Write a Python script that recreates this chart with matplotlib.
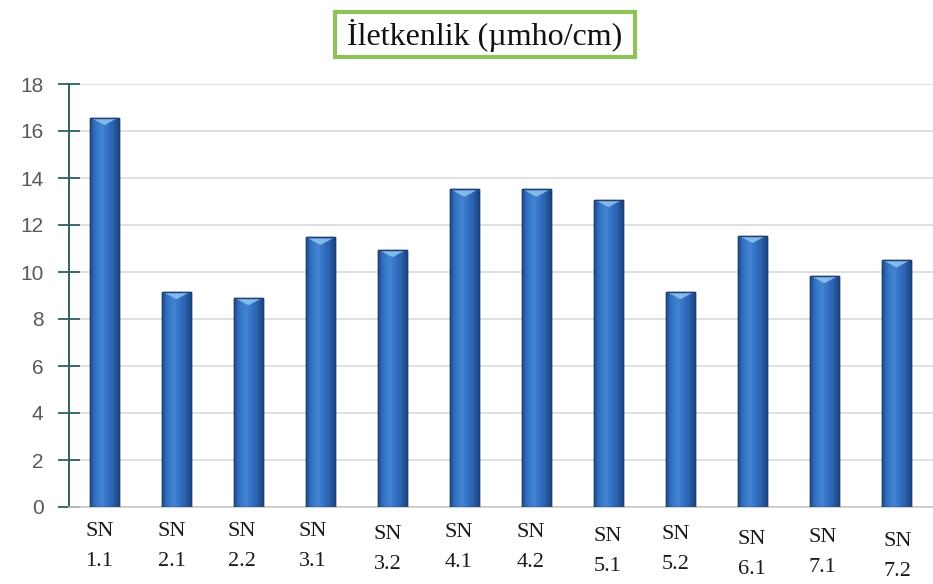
import numpy as np
import matplotlib
matplotlib.use("Agg")
import matplotlib.pyplot as plt
from matplotlib.patches import Rectangle, Polygon
from matplotlib.colors import LinearSegmentedColormap

# Conductivity per sampling point
stations = ["SN\n1.1", "SN\n2.1", "SN\n2.2", "SN\n3.1", "SN\n3.2", "SN\n4.1",
            "SN\n4.2", "SN\n5.1", "SN\n5.2", "SN\n6.1", "SN\n7.1", "SN\n7.2"]
conductivity = [16.57, 9.16, 8.90, 11.47, 10.95, 13.52,
                13.52, 13.08, 9.16, 11.55, 9.84, 10.51]
y_ticks = [0, 2, 4, 6, 8, 10, 12, 14, 16, 18]
title = "İletkenlik (µmho/cm)"

# small hand-placed nudges of the category labels (pixels)
label_dx = [-5, -5, -7, -8, -5, -6, -6, -1, -5, -1, -2, 1]
label_dy = [15, 15, 15, 15, 18, 16, 16, 20, 18, 23, 21, 25]

W, H, DPI = 933, 584, 100
fig = plt.figure(figsize=(W / DPI, H / DPI), dpi=DPI, facecolor="white")
ax = fig.add_axes([68.5 / W, 1 - 507 / H, 864 / W, 423 / H])

x = np.arange(len(conductivity))
bar_w = 0.4
bars = ax.bar(x, conductivity, width=bar_w, color="#2f69b8",
              edgecolor="#1d4177", linewidth=1.0, zorder=3)

# cylinder-like shading across each bar
shade = LinearSegmentedColormap.from_list(
    "shade", ["#21508f", "#3674c6", "#4384d4", "#3573c4", "#2a62ad", "#1d4580"])
grad = np.linspace(0, 1, 64).reshape(1, -1)
for b, v in zip(bars, conductivity):
    x0 = b.get_x()
    x1 = x0 + b.get_width()
    im = ax.imshow(grad, cmap=shade, aspect="auto", extent=[x0, x1, 0, v],
                   zorder=3.5, interpolation="bicubic")
    im.set_clip_path(b)
    cap = Polygon([[x0 + 0.03, v - 0.04], [x1 - 0.03, v - 0.04],
                   [(x0 + x1) / 2, v - 0.32]], closed=True,
                  facecolor="#8cc0f0", edgecolor="none", alpha=0.9, zorder=4)
    ax.add_patch(cap)
    ax.add_patch(Rectangle((x0, 0), x1 - x0, v, fill=False,
                           edgecolor="#1d4177", linewidth=1.0, zorder=4.5))

ax.set_xlim(-0.5, len(conductivity) - 0.5)
ax.set_ylim(0, 18)
ax.set_yticks(y_ticks)
ax.set_yticklabels([str(t) for t in y_ticks], fontfamily="Liberation Sans",
                   fontsize=15, color="#595959")
ax.tick_params(axis="y", direction="inout", length=16, width=1.3,
               color="#2f5f66", pad=10)
ax.set_xticks([])

ax.grid(axis="y", color="#d9d9d9", linewidth=1.2, zorder=0)
ax.set_axisbelow(True)
for s in ("top", "right"):
    ax.spines[s].set_visible(False)
ax.spines["left"].set_color("#2f5f66")
ax.spines["left"].set_linewidth(1.4)
ax.spines["bottom"].set_color("#c8c8c8")
ax.spines["bottom"].set_linewidth(1.2)

for i, lab in enumerate(stations):
    ax.annotate(lab, xy=(x[i], 0), xycoords=("data", "axes fraction"),
                xytext=(label_dx[i], -label_dy[i]), textcoords="offset pixels",
                ha="center", va="top", fontfamily="Liberation Serif",
                fontsize=16, color="#1a1a1a", linespacing=1.8,
                annotation_clip=False)

# framed title
fig.patches.append(Rectangle((335 / W, 1 - 57 / H), 300 / W, 45 / H,
                             transform=fig.transFigure, facecolor="white",
                             edgecolor="#8ec35a", linewidth=3))
fig.text(485 / W, 1 - 35 / H, title, ha="center", va="center",
         fontfamily="Liberation Serif", fontsize=23, color="#111111")

fig.savefig("out.png", dpi=DPI, facecolor="white")
